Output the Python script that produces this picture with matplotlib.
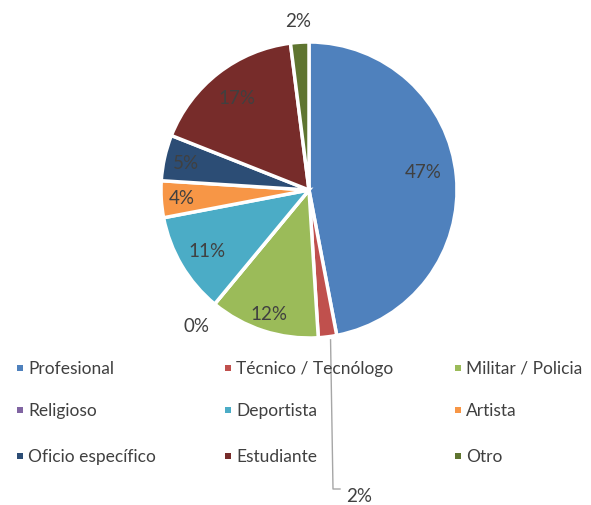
import numpy as np
import matplotlib.pyplot as plt

categories = ['Profesional', 'Técnico / Tecnólogo', 'Militar / Policia',
              'Religioso', 'Deportista', 'Artista',
              'Oficio específico', 'Estudiante', 'Otro']
values = [47, 2, 12, 0, 11, 4, 5, 17, 2]
colors = ['#4F81BD', '#C0504D', '#9BBB59', '#8064A2', '#4BACC6',
          '#F79646', '#2C4D75', '#772C2A', '#5F7530']
# radial position of each percentage label (fraction of radius)
label_r = [0.78, None, 0.88, 1.19, 0.80, 0.86, 0.85, 0.79, 1.15]

plt.rcParams['font.family'] = ['Lato', 'DejaVu Sans']
txt_col = '#404040'

fig = plt.figure(figsize=(5.91, 5.06), dpi=100)
ax = fig.add_axes([0, 0, 1, 1])

cx, cy, R = 309, 315, 148
wedges, _ = ax.pie(values, colors=colors, startangle=90, counterclock=False,
                   center=(cx, cy), radius=R, frame=True,
                   wedgeprops=dict(edgecolor='white', linewidth=2.5))
ax.set_xlim(0, 591)
ax.set_ylim(0, 506)
ax.set_aspect('equal')
ax.axis('off')

total = sum(values)
cum = np.cumsum([0] + values)
for i, v in enumerate(values):
    mid = (cum[i] + v / 2) / total
    ang = np.deg2rad(90 - 360 * mid)
    pct = f'{round(100 * v / total)}%'
    if label_r[i] is None:
        # leader line for the small slice
        x0, y0 = cx + R * np.cos(ang) + 3, cy + R * np.sin(ang) - 3
        ax.plot([x0, 333, 340], [y0, 16, 16], color='#A6A6A6', lw=1)
        ax.text(346, 9, pct, fontsize=13.5, color=txt_col, va='center', ha='left')
        continue
    if i == 0:
        ang += np.deg2rad(4)
    r = label_r[i] * R
    ax.text(cx + r * np.cos(ang), cy + r * np.sin(ang), pct, fontsize=13.5,
            color=txt_col, ha='center', va='center')

# legend, three columns
col_x = [20, 228, 458]
row_y = [506 - 369, 506 - 411, 506 - 457]
for i, (lab, c) in enumerate(zip(categories, colors)):
    x, y = col_x[i % 3], row_y[i // 3]
    ax.scatter([x], [y], marker='s', s=24, color=c, linewidths=0)
    ax.text(x + 8, y, lab, fontsize=12.5, color=txt_col, va='center', ha='left')

fig.savefig('out.png', dpi=100)
